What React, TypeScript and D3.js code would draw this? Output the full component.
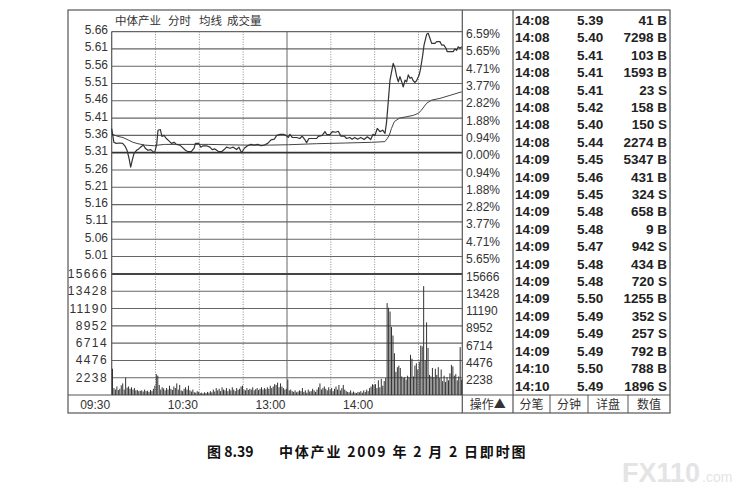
import React from "react";
import * as d3 from "d3";

// ---------- data ----------
const priceTicks = ["5.66", "5.61", "5.56", "5.51", "5.46", "5.41", "5.36", "5.31", "5.26", "5.21", "5.16", "5.11", "5.06", "5.01"];
const pctTicks = ["6.59%", "5.65%", "4.71%", "3.77%", "2.82%", "1.88%", "0.94%", "0.00%", "0.94%", "1.88%", "2.82%", "3.77%", "4.71%", "5.65%"];
const volTicks = [15666, 13428, 11190, 8952, 6714, 4476, 2238];
const timeLabels = ["09:30", "10:30", "13:00", "14:00"];
const timeLabelMinutes = [0, 60, 120, 180];

// [minute index, price]
const pricePoints: [number, number][] = [
  [0, 5.38], [1.5, 5.34], [3, 5.337], [5.5, 5.338], [7.5, 5.337], [9, 5.33], [10.5, 5.317], [11.8, 5.295], [13, 5.268], [14, 5.287],
  [15.3, 5.308], [17, 5.317], [18.5, 5.321], [20.3, 5.328], [21.7, 5.332], [23, 5.323], [24.8, 5.317], [26.7, 5.319], [28.3, 5.313], [29.4, 5.31],
  [30.8, 5.334], [31.7, 5.375], [33.3, 5.377], [34.4, 5.357], [35.8, 5.36], [37.4, 5.351], [39, 5.345], [40.9, 5.337], [42.7, 5.34], [44.3, 5.334],
  [46.6, 5.332], [48.2, 5.326], [50.5, 5.317], [52.3, 5.313], [54.6, 5.314], [56.4, 5.323], [57.3, 5.337], [59.6, 5.337], [61, 5.326], [62.6, 5.33],
  [64.9, 5.33], [67.2, 5.326], [68.8, 5.319], [70.6, 5.321], [72.9, 5.314], [75.2, 5.313], [77, 5.319], [78.6, 5.326], [80.9, 5.323], [83.2, 5.326],
  [85.5, 5.319], [87.1, 5.326], [88.9, 5.31], [90.8, 5.323], [93, 5.33], [95.3, 5.334], [97.6, 5.332], [99.9, 5.334], [102.2, 5.33], [104.5, 5.332],
  [106.8, 5.337], [109.1, 5.347], [111.3, 5.349], [113, 5.36], [115.3, 5.363], [117.6, 5.363], [119.2, 5.36],
  [120.9, 5.354], [122, 5.363], [123.6, 5.354], [126.6, 5.354], [128.8, 5.351], [130.4, 5.358], [132.2, 5.348], [133.4, 5.339], [135, 5.351], [140.2, 5.351],
  [141.4, 5.357], [144.1, 5.36], [146, 5.371], [147.3, 5.362], [149.4, 5.362], [151, 5.371], [153.3, 5.369], [155.1, 5.372], [156.9, 5.358], [159.2, 5.358],
  [160.8, 5.351], [163, 5.354], [164.6, 5.349], [166.4, 5.354], [168.3, 5.349], [170.5, 5.354], [172.8, 5.348], [175, 5.356], [177.3, 5.348], [178.9, 5.363],
  [180.2, 5.36], [181.8, 5.38], [183.6, 5.371], [185.5, 5.375], [187.1, 5.366], [188.2, 5.4], [189.3, 5.457], [190.5, 5.52], [192.7, 5.568], [193.9, 5.555],
  [195.1, 5.53], [196.2, 5.515], [197.3, 5.53], [198.5, 5.515], [199.6, 5.5], [200.8, 5.52], [201.9, 5.515], [203, 5.535], [204.2, 5.525], [205.3, 5.528],
  [206.4, 5.518], [207.6, 5.513], [208.7, 5.518], [210.5, 5.535], [211.5, 5.554], [212.9, 5.592], [213.8, 5.621], [215.6, 5.652], [216.7, 5.655], [217.9, 5.64],
  [219, 5.626], [221.3, 5.626], [222.4, 5.631], [224.7, 5.631], [225.9, 5.621], [227.4, 5.621], [228.8, 5.612], [229.7, 5.602], [233.8, 5.602], [235, 5.61],
  [236.1, 5.606], [237.2, 5.616], [238.4, 5.612], [239.6, 5.616],
];

const avgPoints: [number, number][] = [
  [0, 5.364], [4.3, 5.357], [7.7, 5.354], [11.2, 5.347], [14.6, 5.34], [18, 5.336], [22.6, 5.332], [29.4, 5.33], [31.7, 5.332], [36.3, 5.334],
  [66, 5.334], [90, 5.332], [108, 5.332], [121, 5.333], [140, 5.336], [160, 5.338], [178, 5.34], [187, 5.342], [188.5, 5.35], [190, 5.36],
  [191.5, 5.38], [193.5, 5.4], [197, 5.41], [202, 5.414], [206.5, 5.418], [210, 5.424], [212, 5.433], [215.6, 5.453], [219, 5.462], [224.7, 5.467],
  [231, 5.475], [239.6, 5.486],
];

// volume per minute (index 0 = 09:30)
const volumes = [
  3400, 900, 700, 1100, 650, 800, 1250, 1500, 700, 2250, 950, 1100, 800, 1000, 700, 900, 600, 650, 500, 550,
  600, 450, 700, 500, 550, 400, 650, 500, 800, 1200, 2700, 2500, 1300, 700, 1000, 850, 600, 900, 700, 1200,
  800, 650, 1100, 900, 1500, 700, 1300, 600, 500, 800, 1000, 700, 1200, 600, 450, 700, 350, 300, 500, 400,
  250, 300, 200, 350, 250, 400, 300, 500, 350, 700, 450, 900, 600, 800, 500, 1000, 700, 600, 900, 500,
  800, 600, 1000, 700, 500, 900, 650, 800, 1100, 1200, 700, 600, 900, 650, 800, 700, 1000, 600, 750, 900,
  650, 800, 1000, 700, 900, 750, 1000, 800, 1200, 900, 1100, 1400, 1300, 1600, 1000, 1500, 1100, 900, 700, 800,
  2000, 600, 700, 500, 400, 600, 350, 450, 600, 500, 900, 400, 600, 300, 700, 450, 500, 800, 600, 400,
  700, 1000, 1500, 700, 900, 1100, 800, 600, 1000, 700, 900, 500, 800, 1100, 700, 1300, 600, 900, 1300, 700,
  500, 400, 350, 600, 300, 450, 300, 250, 400, 350, 500, 300, 600, 400, 700, 500, 900, 1100, 1400, 1300,
  1400, 900, 1900, 1000, 2100, 1200, 1800, 2200, 11900, 11300, 10800, 8800, 7700, 5400, 3000, 3600, 3800, 3500, 2400, 2200,
  2300, 2000, 2500, 2300, 5200, 4700, 2400, 3800, 4100, 3300, 4300, 6400, 6300, 14100, 4500, 9400, 6100, 2600, 2400, 3500,
  2300, 3400, 2600, 3600, 2200, 3300, 1800, 2500, 1700, 2300, 1900, 2800, 3900, 3700, 2500, 2700, 1900, 2400, 6200, 2000,
];

const tradeTimes = ["14:08", "14:08", "14:08", "14:08", "14:08", "14:08", "14:08", "14:08", "14:09", "14:09", "14:09", "14:09", "14:09", "14:09", "14:09", "14:09", "14:09", "14:09", "14:09", "14:09", "14:10", "14:10"];
const tradePrices = ["5.39", "5.40", "5.41", "5.41", "5.41", "5.42", "5.40", "5.44", "5.45", "5.46", "5.45", "5.48", "5.48", "5.47", "5.48", "5.48", "5.50", "5.49", "5.49", "5.49", "5.50", "5.49"];
const tradeVols = [41, 7298, 103, 1593, 23, 158, 150, 2274, 5347, 431, 324, 658, 9, 942, 434, 720, 1255, 352, 257, 792, 788, 1896];
const tradeSides = ["B", "B", "B", "B", "S", "B", "S", "B", "B", "B", "S", "B", "B", "S", "B", "S", "B", "S", "S", "B", "B", "S"];
const buttons = ["操作▲", "分笔", "分钟", "详盘", "数值"];
const headerItems = ["中体产业", "分时", "均线", "成交量"];

// ---------- layout ----------
const W = 750, H = 494;
const plotL = 111.7, plotR = 462.3;
const priceTop = 31.6, priceBot = 256.5;
const volTop = 274, volBot = 395;
const frameL = 68, frameR = 670, frameT = 10, frameB = 413;
const tableL = 513;

const x = d3.scaleLinear().domain([0, 240]).range([plotL, plotR]);
const yP = d3.scaleLinear().domain([5.01, 5.66]).range([priceBot, priceTop]);
const yV = d3.scaleLinear().domain([0, 15666]).range([volBot, volTop]);
const rowY = d3.scaleLinear().domain([0, 21]).range([20, 385.5]);

const font = "'Liberation Sans', Arial, sans-serif";
const cjk = "'Noto Sans CJK SC', 'Liberation Sans', sans-serif";

export default function App() {
  const line = d3.line<[number, number]>().x((d) => x(d[0])).y((d) => yP(d[1]));
  const priceVals = priceTicks.map(Number);
  const vGrid = d3.range(1, 8);
  const btnEdges = [plotR, tableL, 550, 588, 628, frameR];

  return (
    <svg width={W} height={H} style={{ position: "fixed", left: 0, top: 0, background: "#fff" }}>
      <rect x={0} y={0} width={W} height={H} fill="#fff" />
      {/* outer frame */}
      <rect x={frameL} y={frameT} width={frameR - frameL} height={frameB - frameT} fill="none" stroke="#555" strokeWidth={1.2} />
      {/* header */}
      {headerItems.map((t, i) => (
        <text key={t} x={[115, 168, 199, 227][i]} y={24.5} fontFamily={cjk} fontSize={11.5} fill="#333">{t}</text>
      ))}
      {/* vertical grid */}
      {vGrid.map((i) => (
        <line key={"v" + i} x1={x(i * 30)} x2={x(i * 30)} y1={priceTop} y2={volBot}
          stroke={i === 4 ? "#666" : "#888"} strokeWidth={1} strokeDasharray={i === 4 ? undefined : "1,1.5"} />
      ))}
      {/* price grid */}
      {priceVals.map((p, i) => (
        <line key={"hp" + i} x1={plotL} x2={plotR} y1={yP(p)} y2={yP(p)}
          stroke={i === 7 ? "#333" : "#666"} strokeWidth={i === 7 ? 1.8 : 1.1} />
      ))}
      {/* volume grid */}
      {volTicks.map((v, i) => (
        <line key={"hv" + i} x1={plotL} x2={plotR} y1={yV(v)} y2={yV(v)}
          stroke={i === 0 ? "#444" : "#666"} strokeWidth={i === 0 ? 1.8 : 1.1} />
      ))}
      {/* plot borders */}
      <line x1={plotL} x2={plotL} y1={priceTop} y2={volBot} stroke="#555" strokeWidth={1.2} />
      <line x1={plotR} x2={plotR} y1={frameT} y2={frameB} stroke="#555" strokeWidth={1.2} />
      <line x1={tableL} x2={tableL} y1={frameT} y2={frameB} stroke="#555" strokeWidth={1.2} />
      <line x1={frameL} x2={frameR} y1={volBot} y2={volBot} stroke="#555" strokeWidth={1.2} />
      {btnEdges.slice(2, 5).map((bx, i) => (
        <line key={"b" + i} x1={bx} x2={bx} y1={volBot} y2={frameB} stroke="#555" strokeWidth={1} />
      ))}
      {/* left axis labels */}
      {priceTicks.map((t, i) => (
        <text key={"lp" + i} x={108} y={yP(priceVals[i]) + 2.5} textAnchor="end" fontFamily={font} fontSize={12} fill="#333">{t}</text>
      ))}
      {volTicks.map((v, i) => (
        <text key={"lv" + i} x={108} y={yV(v) + 4} textAnchor="end" fontFamily={font} fontSize={12} letterSpacing={1.4} fill="#333">{v}</text>
      ))}
      {/* right axis labels */}
      {pctTicks.map((t, i) => (
        <text key={"rp" + i} x={466} y={yP(priceVals[i]) + 6.5} fontFamily={font} fontSize={12} fill="#333">{t}</text>
      ))}
      {volTicks.map((v, i) => (
        <text key={"rv" + i} x={466} y={yV(v) + 6.5} fontFamily={font} fontSize={12} fill="#333">{v}</text>
      ))}
      {/* time labels */}
      {timeLabels.map((t, i) => (
        <text key={"t" + i} x={x(timeLabelMinutes[i]) - 1.5} y={409} textAnchor="end" fontFamily={font} fontSize={12} fill="#333">{t}</text>
      ))}
      {/* volume bars */}
      {volumes.map((v, i) => (
        <line key={"vb" + i} x1={x(i) + 0.8} x2={x(i) + 0.8} y1={volBot} y2={yV(v)} stroke="#333" strokeWidth={1} />
      ))}
      {/* average + price lines */}
      <path d={line(avgPoints) || ""} fill="none" stroke="#444" strokeWidth={1} />
      <path d={line(pricePoints) || ""} fill="none" stroke="#333" strokeWidth={1.2} strokeLinejoin="round" />
      {/* trade table */}
      {tradeTimes.map((t, i) => (
        <g key={"r" + i} fontFamily={font} fontWeight="bold" fontSize={13.5} fill="#222">
          <text x={515} y={rowY(i) + 5}>{t}</text>
          <text x={577} y={rowY(i) + 5}>{tradePrices[i]}</text>
          <text x={667} y={rowY(i) + 5} textAnchor="end">{tradeVols[i] + " " + tradeSides[i]}</text>
        </g>
      ))}
      {/* buttons */}
      {buttons.map((b, i) => (
        <text key={"bt" + i} x={(btnEdges[i] + btnEdges[i + 1]) / 2} y={409} textAnchor="middle" fontFamily={cjk} fontSize={12} fill="#333">{b}</text>
      ))}
      {/* caption */}
      <text x={207} y={457} fontFamily={cjk} fontWeight="bold" fontSize={14} fill="#111">图 8.39</text>
      <text x={279} y={457} fontFamily={cjk} fontWeight="bold" fontSize={14} letterSpacing={1.8} fill="#111" xmlSpace="preserve">中体产业 2009 年 2 月 2 日即时图</text>
      {/* watermark */}
      <text x={622} y={482} fontFamily={font} fontWeight="bold" fontSize={27} fill="#e4e4e4">FX110</text>
      <text x={702} y={482} fontFamily={font} fontSize={14} fill="#e4e4e4">.com</text>
    </svg>
  );
}
